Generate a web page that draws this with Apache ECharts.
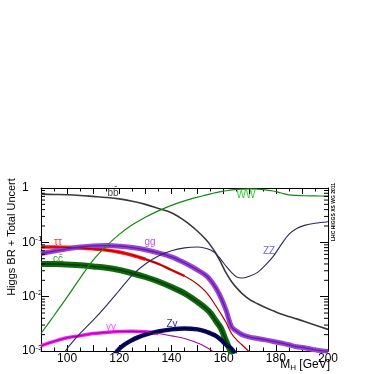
<!DOCTYPE html>
<html>
<head>
<meta charset="utf-8">
<script src="https://cdn.jsdelivr.net/npm/echarts@6/dist/echarts.min.js"></script>
<style>
  html, body { margin: 0; padding: 0; background: #fff; }
  #chart { width: 374px; height: 374px; }
</style>
</head>
<body>
<div id="chart"></div>
<script>
// Higgs mass grid [GeV]
const mass = [90, 95, 100, 105, 110, 115, 120, 125, 130, 135, 140, 145, 150, 153, 155, 157, 159, 161, 163, 165, 167, 170, 173, 176, 179, 182, 185, 188, 191, 195, 200]

// branching ratios (null = off the plot)
const brBB = [0.77, 0.76, 0.75, 0.73, 0.70, 0.67, 0.63, 0.57, 0.50, 0.42, 0.35, 0.25, 0.16, 0.115, 0.088, 0.063, 0.042, 0.027, 0.019, 0.0145, 0.0115, 0.0088, 0.0074, 0.0063, 0.0055, 0.0048, 0.0043, 0.0039, 0.0035, 0.003, 0.0025]
const brTauTau = [0.082, 0.082, 0.081, 0.079, 0.076, 0.072, 0.066, 0.058, 0.049, 0.040, 0.031, 0.024, 0.017, 0.0125, 0.0095, 0.0068, 0.0048, 0.0033, 0.0021, 0.0016, 0.0013, 0.00095, 0.0007, null, null, null, null, null, null, null, null]
const brGG = [0.062, 0.069, 0.076, 0.082, 0.086, 0.087, 0.085, 0.080, 0.073, 0.064, 0.054, 0.042, 0.031, 0.025, 0.02, 0.0145, 0.0095, 0.0055, 0.0028, 0.0023, 0.002, 0.0018, 0.0017, 0.0016, 0.0015, 0.0014, 0.0013, 0.0012, 0.00115, 0.00105, 0.00098]
const brCC = [0.040, 0.040, 0.039, 0.038, 0.036, 0.034, 0.031, 0.027, 0.023, 0.019, 0.015, 0.0115, 0.008, 0.0062, 0.005, 0.0036, 0.0026, 0.0015, 0.0009, 0.0005, null, null, null, null, null, null, null, null, null, null, null]
const brGamGam = [0.00125, 0.0015, 0.00175, 0.0019, 0.0021, 0.0022, 0.00228, 0.0023, 0.00225, 0.0021, 0.0019, 0.0017, 0.0014, 0.0012, 0.00105, 0.0009, 0.00078, null, null, null, null, null, null, null, null, null, null, null, null, null, null]
const brZGam = [null, null, null, null, null, 0.0005, 0.0011, 0.0016, 0.002, 0.0023, 0.0025, 0.0026, 0.0025, 0.0023, 0.0021, 0.0019, 0.0016, 0.0013, 0.0011, 0.0008, 0.0006, null, null, null, null, null, null, null, null, null, null]
const brWW = [0.0021, 0.0045, 0.0098, 0.022, 0.047, 0.085, 0.14, 0.21, 0.29, 0.38, 0.48, 0.58, 0.68, 0.74, 0.78, 0.82, 0.86, 0.89, 0.92, 0.94, 0.95, 0.96, 0.95, 0.92, 0.88, 0.81, 0.75, 0.73, 0.72, 0.715, 0.71]
const brZZ = [null, 0.0005, 0.0011, 0.0021, 0.0037, 0.0068, 0.013, 0.025, 0.040, 0.056, 0.070, 0.079, 0.082, 0.078, 0.072, 0.062, 0.048, 0.036, 0.028, 0.023, 0.022, 0.024, 0.028, 0.038, 0.055, 0.09, 0.14, 0.18, 0.205, 0.225, 0.24]

// minor log ticks on the y axis
const yMinorTicks = [0.002, 0.003, 0.004, 0.005, 0.006, 0.007, 0.008, 0.009,
  0.02, 0.03, 0.04, 0.05, 0.06, 0.07, 0.08, 0.09,
  0.2, 0.3, 0.4, 0.5, 0.6, 0.7, 0.8, 0.9]

const FONT = '"Liberation Sans", Arial, Helvetica, sans-serif'

const chart = echarts.init(document.getElementById('chart'))

// keep points inside [lo, hi] GeV, null elsewhere
const pairs = (ys, lo, hi) => mass.map((m, i) =>
  ((lo === undefined || m >= lo) && (hi === undefined || m <= hi)) ? [m, ys[i]] : [m, null])

const line = (name, data, color, width, z) => ({
  name,
  type: 'line',
  data,
  showSymbol: false,
  symbol: 'none',
  smooth: 0.35,
  connectNulls: false,
  clip: true,
  z: z || 2,
  lineStyle: { color, width, cap: 'butt', join: 'round' },
  silent: true,
  animation: false
})

const xAxisBase = {
  type: 'value',
  min: 90,
  max: 200,
  interval: 10,
  axisLine: { show: true, lineStyle: { color: '#000', width: 1 } },
  axisTick: { show: true, inside: true, length: 6, lineStyle: { color: '#000' } },
  minorTick: { show: true, splitNumber: 2, length: 3.5, lineStyle: { color: '#000' } },
  splitLine: { show: false }
}

const yAxisBase = {
  type: 'log',
  logBase: 10,
  min: 0.001,
  max: 1,
  axisLine: { show: true, lineStyle: { color: '#000', width: 1 } },
  axisTick: { show: true, inside: true, length: 8, lineStyle: { color: '#000' } },
  splitLine: { show: false }
}

const option = {
  backgroundColor: '#fff',
  animation: false,
  grid: { left: 41, right: 46, top: 188, bottom: 23 },
  xAxis: [
    Object.assign({}, xAxisBase, {
      position: 'bottom',
      axisLabel: {
        show: true,
        margin: 2,
        color: '#000',
        fontFamily: FONT,
        fontSize: 12,
        formatter: v => (v % 20 === 0 ? String(v) : '')
      }
    }),
    Object.assign({}, xAxisBase, { position: 'top', axisLabel: { show: false } })
  ],
  yAxis: [
    Object.assign({}, yAxisBase, {
      position: 'left',
      axisLabel: {
        show: true,
        align: 'left',
        margin: 19,
        color: '#000',
        fontFamily: FONT,
        fontSize: 12,
        formatter: v => {
          const e = Math.round(Math.log10(v))
          return e === 0 ? '1' : '10{sup|' + e + '}'
        },
        rich: {
          sup: { fontSize: 8, fontFamily: FONT, color: '#000', padding: [0, 0, 7, 0] }
        }
      }
    }),
    Object.assign({}, yAxisBase, { position: 'right', axisLabel: { show: false } })
  ],
  series: [
    // uncertainty bands
    line('tautau band', pairs(brTauTau, 90, 130), '#ff1a1a', 3.6, 3),
    line('tautau band tail', pairs(brTauTau, 130, 145), '#ee1010', 2.4, 3),
    line('cc band', pairs(brCC), '#0d6b0d', 6, 3),
    line('gg band', pairs(brGG), '#9843da', 5, 4),
    line('gamgam band', pairs(brGamGam, 90, 135), '#ff19ff', 3.5, 3),
    line('Zgam band', pairs(brZGam), '#0a0a66', 4.5, 4),
    // central values
    line('tautau', pairs(brTauTau), '#b00000', 1.2, 5),
    line('cc', pairs(brCC), '#003800', 1.4, 5),
    line('gg', pairs(brGG), '#6a1c9e', 1.3, 5),
    line('gamgam', pairs(brGamGam), '#9a0f9a', 1.1, 5),
    line('Zgam', pairs(brZGam), '#00003a', 1.2, 5),
    line('bb', pairs(brBB), '#3a3a3a', 1.6, 6),
    line('ZZ', pairs(brZZ), '#2a2a5c', 1.1, 6),
    line('WW', pairs(brWW), '#128a12', 1.2, 6),
    // log minor ticks on left/right frame
    {
      type: 'custom',
      silent: true,
      z: 10,
      clip: false,
      data: yMinorTicks.map(v => [90, v]),
      renderItem: (params, api) => {
        const v = api.value(1)
        const pl = api.coord([90, v])
        const pr = api.coord([200, v])
        const st = { stroke: '#000', lineWidth: 1 }
        return {
          type: 'group',
          children: [
            { type: 'line', shape: { x1: pl[0], y1: pl[1], x2: pl[0] + 4, y2: pl[1] }, style: st },
            { type: 'line', shape: { x1: pr[0], y1: pr[1], x2: pr[0] - 4, y2: pr[1] }, style: st }
          ]
        }
      }
    }
  ],
  graphic: [
    { type: 'text', x: 12, y: 237, rotation: Math.PI / 2,
      style: { text: 'Higgs BR + Total Uncert', font: '11px ' + FONT, fill: '#000', textAlign: 'center', textVerticalAlign: 'middle' } },
    { type: 'text', x: 334, y: 212, rotation: Math.PI / 2,
      style: { text: 'LHC HIGGS XS WG 2011', font: 'bold 5px ' + FONT, fill: '#000', textAlign: 'center', textVerticalAlign: 'middle' } },
    { type: 'text', x: 330, y: 365,
      style: {
        text: '{m|M}{s|H}{m| [GeV]}', textAlign: 'right', textVerticalAlign: 'middle',
        rich: {
          m: { fontSize: 12, fontFamily: FONT, fill: '#000', color: '#000' },
          s: { fontSize: 8, fontFamily: FONT, fill: '#000', color: '#000', padding: [5, 0, 0, 0] }
        }
      } },
    // channel labels
    { type: 'text', x: 113, y: 193, style: { text: 'bb\u0304', font: '10px ' + FONT, fill: '#444', textAlign: 'center', textVerticalAlign: 'middle' } },
    { type: 'text', x: 246, y: 195, style: { text: 'WW', font: '10px ' + FONT, fill: '#2ecc2e', textAlign: 'center', textVerticalAlign: 'middle' } },
    { type: 'text', x: 269, y: 251, style: { text: 'ZZ', font: '10px ' + FONT, fill: '#6a6acc', textAlign: 'center', textVerticalAlign: 'middle' } },
    { type: 'text', x: 58, y: 242, style: { text: 'ττ', font: '10px ' + FONT, fill: '#ff3030', textAlign: 'center', textVerticalAlign: 'middle' } },
    { type: 'text', x: 150, y: 242, style: { text: 'gg', font: '10px ' + FONT, fill: '#b855ee', textAlign: 'center', textVerticalAlign: 'middle' } },
    { type: 'text', x: 58, y: 259, style: { text: 'cc\u0304', font: '10px ' + FONT, fill: '#339933', textAlign: 'center', textVerticalAlign: 'middle' } },
    { type: 'text', x: 111, y: 327, style: { text: 'γγ', font: '10px ' + FONT, fill: '#ff55ff', textAlign: 'center', textVerticalAlign: 'middle' } },
    { type: 'text', x: 172, y: 324, style: { text: 'Zγ', font: '10px ' + FONT, fill: '#333399', textAlign: 'center', textVerticalAlign: 'middle' } }
  ]
}

chart.setOption(option)
</script>
</body>
</html>
